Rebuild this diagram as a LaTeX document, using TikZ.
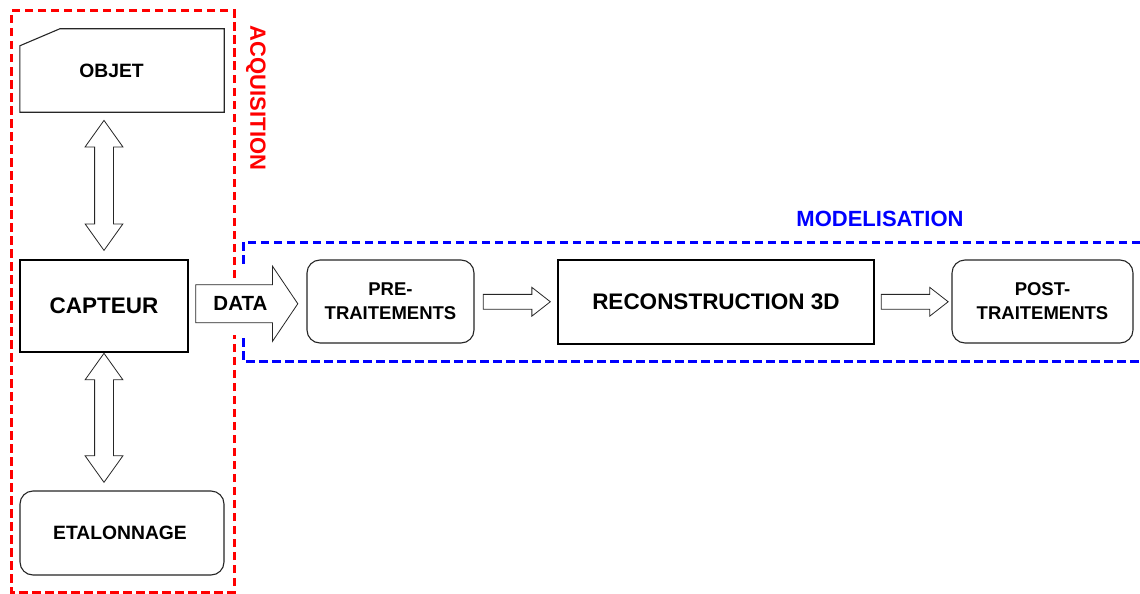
\documentclass[tikz,border=0pt]{standalone}
\usepackage{fontspec}
\setmainfont{Liberation Sans}
\usetikzlibrary{shapes.arrows}

\begin{document}
\begin{tikzpicture}[x=1pt,y=-1pt,
    txtbig/.style={font=\bfseries\fontsize{22.5}{26}\selectfont},
    txtsmall/.style={font=\bfseries\fontsize{19.3}{23}\selectfont},
    txtflow/.style={font=\bfseries\fontsize{18.5}{24}\selectfont,align=center},
    plainbox/.style={draw=black!85,line width=1.1pt,fill=white,inner sep=0pt},
    thickbox/.style={draw=black,line width=2.8pt,inner sep=0pt},
    softbox/.style={plainbox,rounded corners=13pt},
    dblarrow/.style={double arrow,draw=black!85,line width=0.8pt,fill=white,inner xsep=0pt,inner ysep=9pt,
      double arrow head extend=9.5pt,double arrow tip angle=71},
    flowarrow/.style={single arrow,draw=black!85,line width=0.8pt,fill=white,inner xsep=0pt,inner ysep=7pt,
      single arrow head extend=7pt,single arrow tip angle=76,minimum height=67pt,xshift=-3.5pt},
    zone/.style={dash pattern=on 8.5pt off 4.5pt,line width=3pt},
    zonelabel/.style={font=\bfseries\fontsize{22}{26}\selectfont}]
  \useasboundingbox (0,0) rectangle (1140,594);

  % acquisition
  \node[txtsmall,inner sep=0pt,minimum width=204pt,minimum height=83pt] (objet) at (122,70.5) {\hspace*{-21pt}OBJET};
  \draw[black!85,line width=1.1pt] (objet.south west) -- ([yshift=-17pt]objet.north west)
    -- ([xshift=40pt]objet.north west) -- (objet.north east) -- (objet.south east) -- cycle;
  \node[thickbox,txtbig,minimum width=168pt,minimum height=92pt] (capteur) at (104,306) {CAPTEUR};
  \node[softbox,txtsmall,minimum width=204pt,minimum height=84pt] (etalonnage) at (122,533) {\hspace*{-4pt}ETALONNAGE};

  \path (capteur.north |- objet.south) -- (capteur.north)
    node[midway,dblarrow,rotate=90,minimum height=130pt] (objcap) {};
  \path (capteur.south) -- (capteur.south |- etalonnage.north)
    node[pos=.47,dblarrow,rotate=90,minimum height=129pt] (capetal) {};

  \draw[red,zone] (234,278) -- (234,11) -- (11,11) -- (11,592) -- (234,592) -- (234,335);
  \node[zonelabel,red,rotate=-90] (acq) at (256,98) {ACQUISITION};

  % modelisation
  \node[softbox,txtflow,minimum width=167pt,minimum height=83pt] (pretrait) at (390.5,301.5) {PRE-\\TRAITEMENTS};
  \node[thickbox,txtbig,minimum width=316pt,minimum height=84pt] (recon) at (716,302) {RECONSTRUCTION 3D};
  \node[softbox,txtflow,minimum width=181pt,minimum height=83pt] (posttrait) at (1042.5,301.5) {POST-\\TRAITEMENTS};

  \draw[blue,zone] (1140,242) -- (243,242) -- (243,267);
  \draw[blue,zone] (243,338) -- (243,361) -- (1140,361);
  \node[zonelabel,blue] (model) at (880,219) {MODELISATION};

  \path (capteur.east) -- (pretrait.west)
    node[midway,xshift=-7.5pt,single arrow,draw=black!85,line width=0.8pt,fill=white,inner xsep=0pt,inner ysep=11.5pt,
      font=\bfseries\fontsize{20.5}{24}\selectfont,single arrow head extend=18.5pt,single arrow tip angle=112,
      minimum height=102pt] (data) {DATA};
  \path (pretrait.east) -- (recon.west) node[midway,flowarrow] (pr) {};
  \path (recon.east) -- (posttrait.west) node[midway,flowarrow] (rp) {};
\end{tikzpicture}
\end{document}
